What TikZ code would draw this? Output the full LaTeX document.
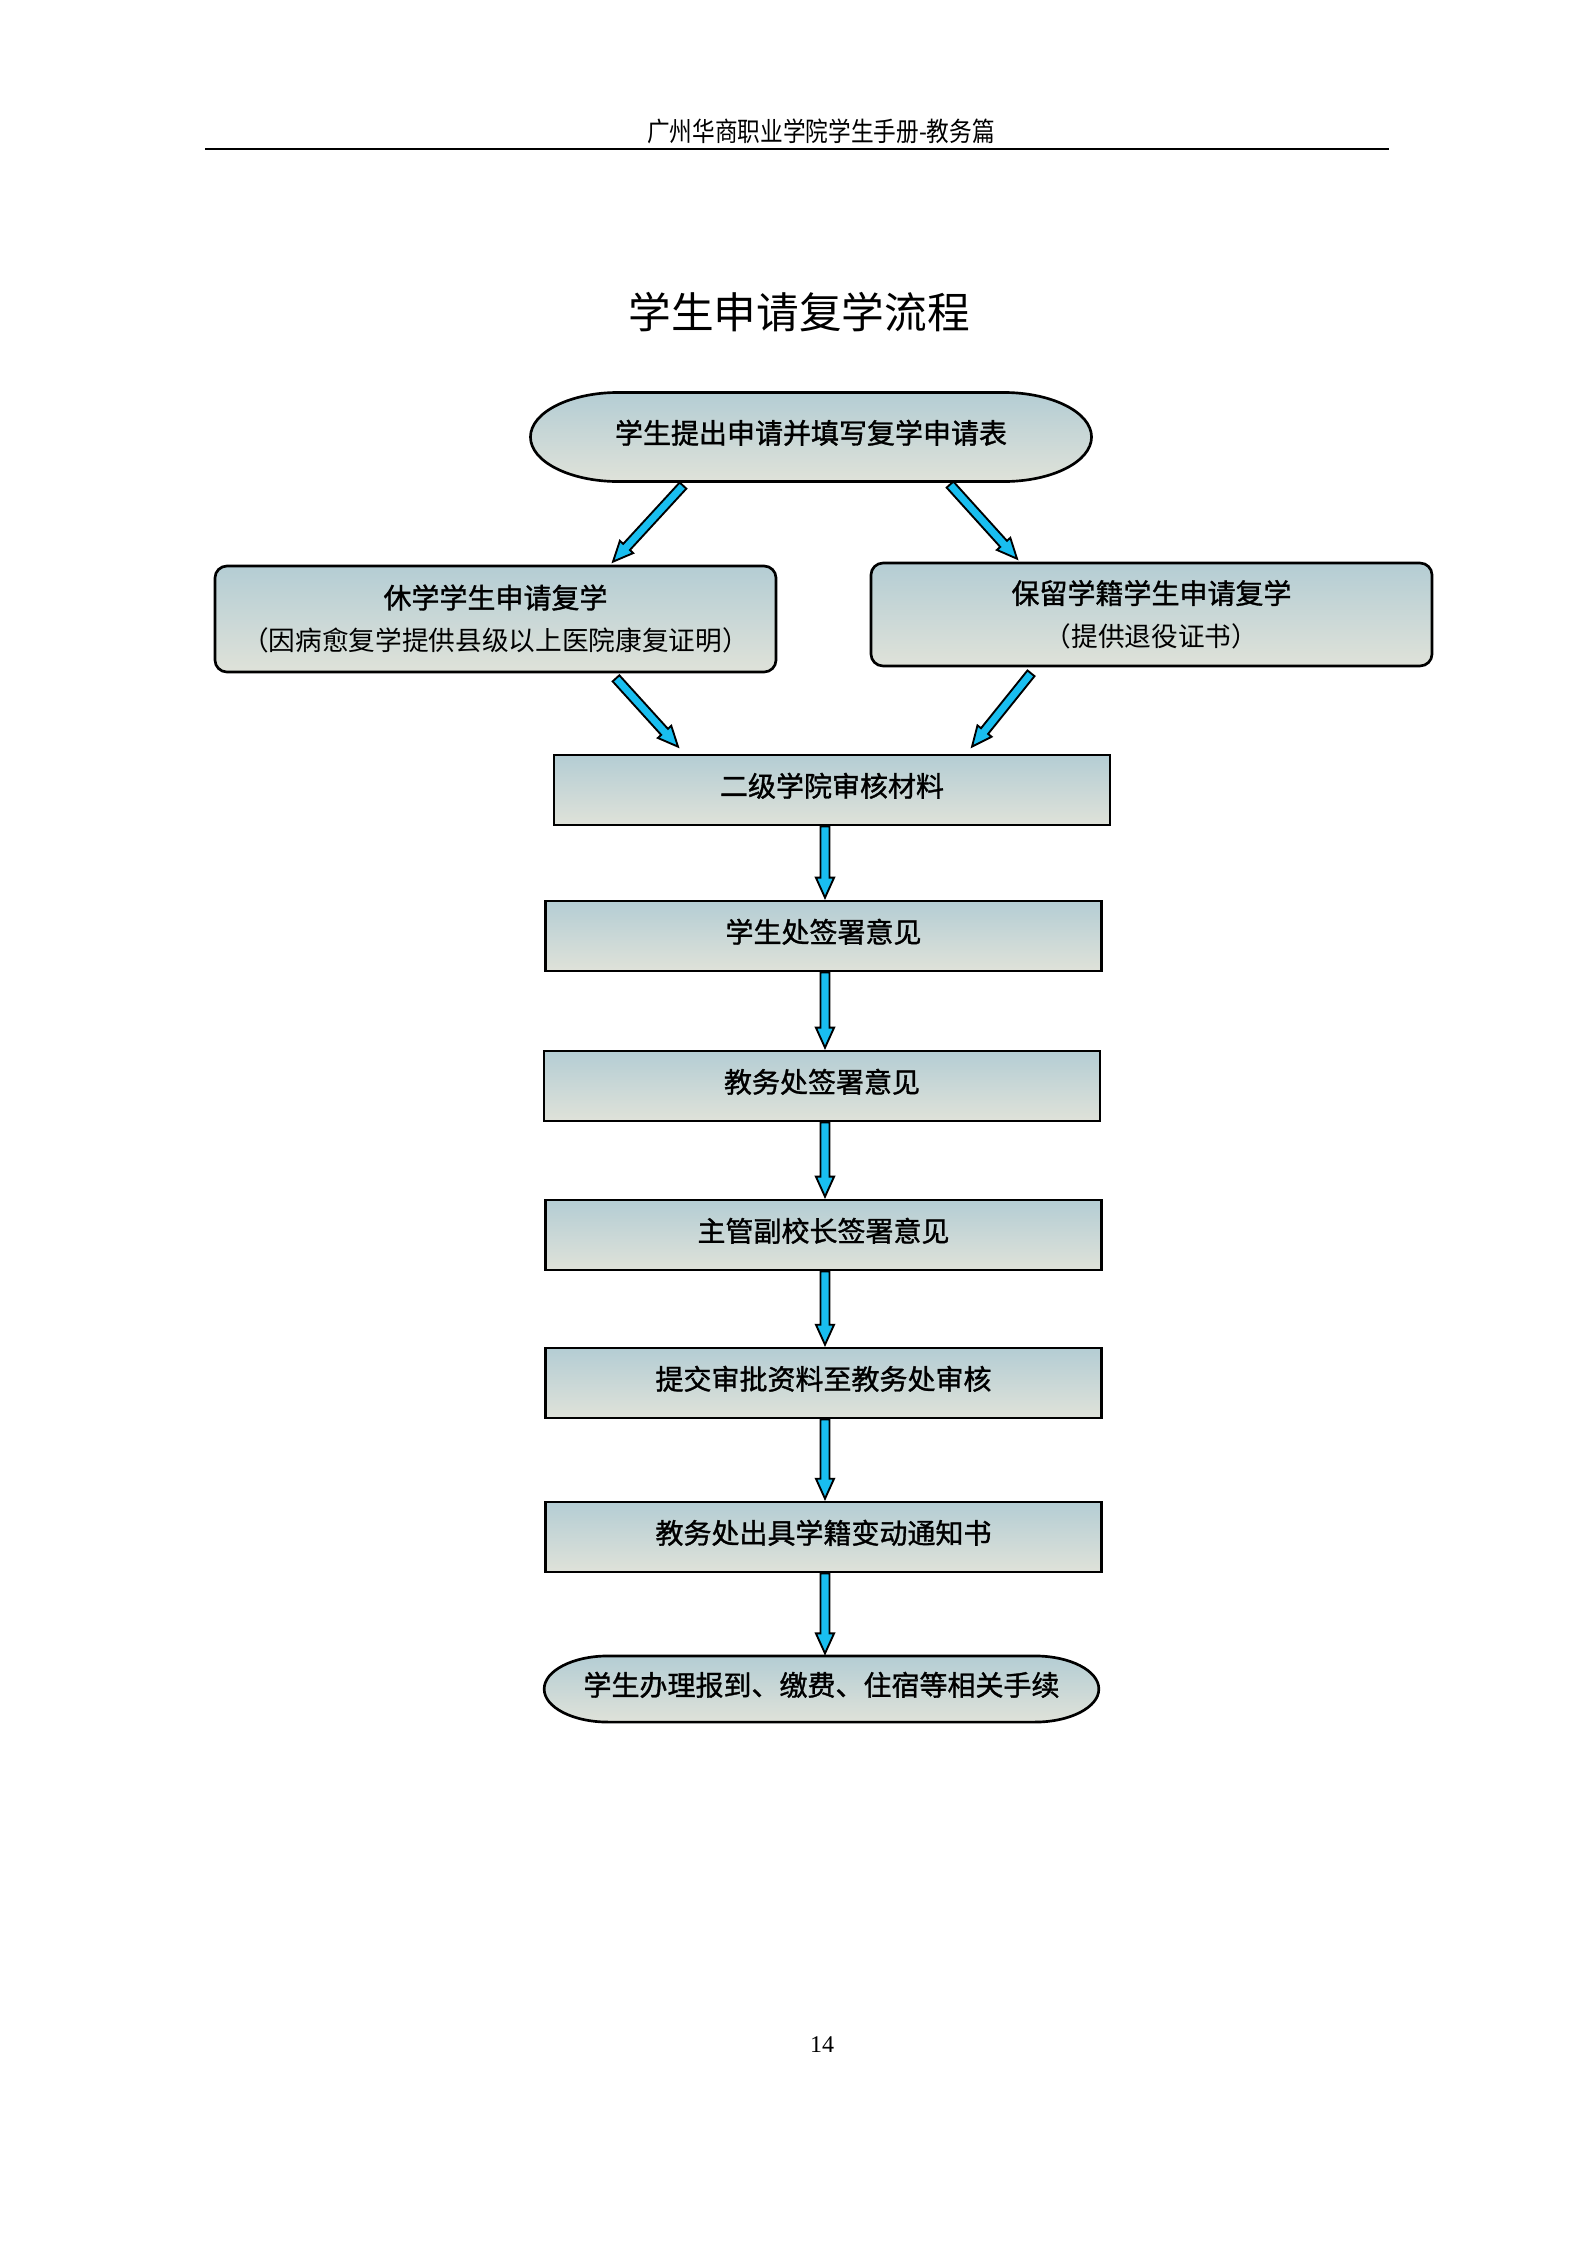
\documentclass[tikz,border=0pt]{standalone}
\usepackage{fontspec}
\setmainfont{Liberation Serif}
\newfontfamily\cjk{Noto Sans CJK SC}
\newfontfamily\cjkb[FakeBold=1.2]{Noto Sans CJK SC}
\newfontfamily\cjkh[FakeStretch=0.85]{Noto Sans CJK SC}
\usetikzlibrary{calc}

\definecolor{boxtop}{RGB}{180,205,212}
\definecolor{boxbot}{RGB}{223,226,217}
\definecolor{arrowblue}{RGB}{25,190,240}

\tikzset{
	box/.style={draw, line width=1pt, top color=boxtop, bottom color=boxbot,
		minimum width=208.5pt, minimum height=26.25pt, inner sep=0pt,
		text height=9.2pt, text depth=4.3pt,
		font=\cjkb\fontsize{10.5}{12}\selectfont},
	sidebox/.style={draw, line width=1pt, top color=boxtop, bottom color=boxbot,
		rounded corners=4.5pt, minimum width=210.4pt, inner sep=0pt,
		align=center, font=\fontsize{10.5}{16}\selectfont},
	terminal/.style={draw, line width=1pt, top color=boxtop, bottom color=boxbot},
	arrowline/.style={draw=black, fill=arrowblue, line width=0.7pt, line join=miter}
}

% block arrow from #1 to #2
\newcommand\flowarrow[2]{%
	\coordinate (fa-s) at (#1);
	\coordinate (fa-e) at (#2);
	\coordinate (fa-h) at ($(fa-e)!7.5pt!(fa-s)$);
	\path[arrowline] ($(fa-s)!1.7pt!90:(fa-e)$) -- ($(fa-h)!1.7pt!-90:(fa-s)$)
		-- ($(fa-h)!3.4pt!-90:(fa-s)$) -- (fa-e) -- ($(fa-h)!3.4pt!90:(fa-s)$)
		-- ($(fa-h)!1.7pt!90:(fa-s)$) -- ($(fa-s)!1.7pt!-90:(fa-e)$) -- cycle;}

\begin{document}
\begin{tikzpicture}[x=0.375pt, y=-0.375pt]
	\fill[white] (0,0) rectangle (1587,2245);
	\useasboundingbox (0,0) rectangle (1587,2245);

	% page head
	\node[font=\cjkh\fontsize{10}{12}\selectfont] (head) at (821,131)
		{广州华商职业学院学生手册-教务篇};
	\draw[line width=0.6pt] (205,149) -- (1389,149);

	\node[font=\cjk\fontsize{16}{18}\selectfont] (title) at (799,312)
		{学生申请复学流程};

	% start
	\coordinate (topc) at (811,437);
	\path[terminal] ($(topc)+(-72.2pt,16.7pt)$) -- ++(144.4pt,0pt)
		arc[start angle=90, end angle=-90, x radius=33pt, y radius=16.7pt]
		-- ++(-144.4pt,0pt)
		arc[start angle=270, end angle=90, x radius=33pt, y radius=16.7pt] -- cycle;
	\node[minimum width=210.4pt, minimum height=33.4pt, inner sep=0pt,
		text height=9.2pt, text depth=4.3pt,
		font=\cjkb\fontsize{10.5}{12}\selectfont] (top) at (topc)
		{学生提出申请并填写复学申请表};

	\node[sidebox, minimum height=39.75pt] (left) at (495.5,619)
		{{\cjkb 休学学生申请复学}\\{\cjk\fontsize{10}{16}\selectfont （因病愈复学提供县级以上医院康复证明）}};
	\node[sidebox, minimum height=38.6pt] (right) at (1151.5,614.5)
		{{\cjkb 保留学籍学生申请复学}\\{\cjk\fontsize{10}{16}\selectfont （提供退役证书）}};

	\node[box] (college) at (832,790)    {二级学院审核材料};
	\node[box] (affairs) at (823.5,936)  {学生处签署意见};
	\node[box] (academic) at (822,1086)  {教务处签署意见};
	\node[box] (vice) at (823.5,1235)    {主管副校长签署意见};
	\node[box] (submit) at (823.5,1383)  {提交审批资料至教务处审核};
	\node[box] (notice) at (823.5,1537)  {教务处出具学籍变动通知书};

	% end
	\coordinate (endc) at (821.5,1689);
	\path[terminal] ($(endc)+(-80pt,12.4pt)$) -- ++(160pt,0pt)
		arc[start angle=90, end angle=-90, x radius=24pt, y radius=12.4pt]
		-- ++(-160pt,0pt)
		arc[start angle=270, end angle=90, x radius=24pt, y radius=12.4pt] -- cycle;
	\node[minimum width=208pt, minimum height=24.8pt, inner sep=0pt,
		text height=9.2pt, text depth=4.3pt,
		font=\cjkb\fontsize{10.5}{12}\selectfont] (finish) at (endc)
		{学生办理报到、缴费、住宿等相关手续};

	\node[font=\fontsize{9}{11}\selectfont] (page) at (822,2045) {14};

	% arrows
	\flowarrow{$(top.south)+(-128,3.5)$}{$(left.north)+(117.5,-3)$}
	\flowarrow{$(top.south)+(139,2.5)$}{$(right.north)+(-134.5,-3)$}
	\flowarrow{$(left.south)+(120.5,5)$}{$(college.north)+(-154,-7)$}
	\flowarrow{$(right.south)+(-120.5,6)$}{$(college.north)+(140,-7)$}

	\coordinate (axis) at (825,0);
	\flowarrow{college.south -| axis}{$(affairs.north -| axis)+(0,-2)$}
	\flowarrow{affairs.south -| axis}{$(academic.north -| axis)+(0,-2)$}
	\flowarrow{academic.south -| axis}{$(vice.north -| axis)+(0,-2)$}
	\flowarrow{vice.south -| axis}{$(submit.north -| axis)+(0,-2)$}
	\flowarrow{submit.south -| axis}{$(notice.north -| axis)+(0,-2)$}
	\flowarrow{notice.south -| axis}{$(finish.north -| axis)+(0,-2)$}
\end{tikzpicture}
\end{document}
